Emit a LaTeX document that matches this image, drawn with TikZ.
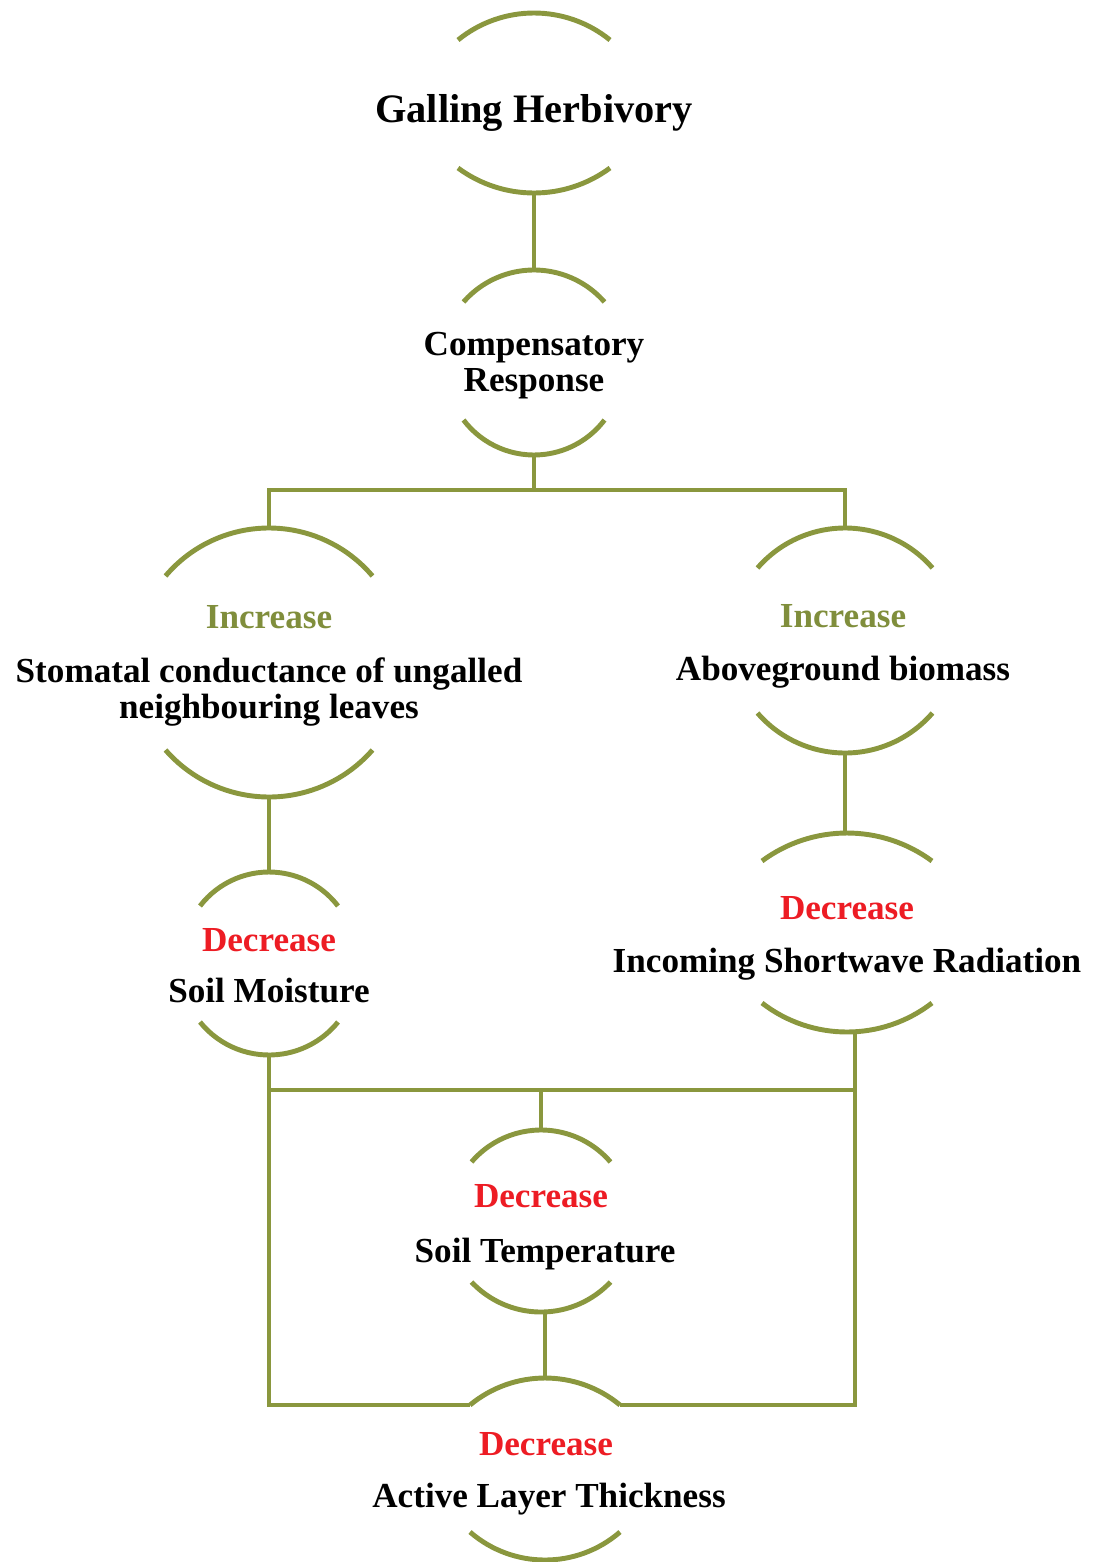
\documentclass[tikz,border=0pt]{standalone}
\usepackage{fontspec}
\setmainfont{Liberation Serif}
\definecolor{olivel}{RGB}{138,151,62}
\definecolor{incgreen}{RGB}{128,142,60}
\definecolor{decred}{RGB}{237,28,36}
\newcommand{\incr}{\textcolor{incgreen}{Increase}}
\newcommand{\decr}{\textcolor{decred}{Decrease}}
% two caps round a term: name, x, half width, top y, top sag, bottom y, bottom sag
\newcommand{\caps}[7]{%
  \pgfmathsetmacro{\capr}{(#3*#3+#5*#5)/(2*#5)}%
  \pgfmathsetmacro{\capa}{asin(#3/\capr)}%
  \draw[capline] (#2-#3,-#4) arc[start angle=90+\capa, end angle=90-\capa, radius=\capr];
  \coordinate (#1-n) at (#2,-#4+#5);
  \coordinate (#1-nw) at (#2-#3,-#4);
  \coordinate (#1-ne) at (#2+#3,-#4);
  \pgfmathsetmacro{\capr}{(#3*#3+#7*#7)/(2*#7)}%
  \pgfmathsetmacro{\capa}{asin(#3/\capr)}%
  \draw[capline] (#2-#3,-#6) arc[start angle=270-\capa, end angle=270+\capa, radius=\capr];
  \coordinate (#1-s) at (#2,-#6-#7);
}

\begin{document}
\begin{tikzpicture}[x=0.02cm, y=0.02cm,
    capline/.style = {color=olivel, line width=2.8pt},
    term/.style = {anchor=base, align=center, inner sep=0pt, font=\bfseries\fontsize{20}{20}\selectfont},
    title/.style = {anchor=base, inner sep=0pt, font=\bfseries\fontsize{23}{24}\selectfont}]
    \useasboundingbox (0,0) rectangle (1094,-1562);
    % caps
    \caps{gh}{534}{76}{40}{27}{168}{25}
    \caps{cr}{534}{70.5}{302}{32}{420}{35}
    \caps{si}{269}{103.5}{576}{48}{750}{47}
    \caps{ab}{845}{87.5}{568}{40}{713}{40}
    \caps{sm}{269}{69}{906}{34}{1022}{33}
    \caps{ir}{847}{85}{861}{28}{1003}{29}
    \caps{st}{541}{69.5}{1162}{32}{1282}{30}
    \caps{al}{545}{75}{1405}{27}{1532}{28}
    % terms (base = last line)
    \node[title] (gh) at (534,-122) {Galling Herbivory};
    \node[term] (cr) at (534,-391) {Compensatory\\Response};
    \node[term] (si-l) at (269,-628) {\incr};
    \node[term] (si) at (269,-718) {Stomatal conductance of ungalled\\neighbouring leaves};
    \node[term] (ab-l) at (843,-627) {\incr};
    \node[term] (ab) at (843,-680) {Aboveground biomass};
    \node[term] (sm-l) at (269,-951) {\decr};
    \node[term] (sm) at (269,-1002) {Soil Moisture};
    \node[term] (ir-l) at (847,-919) {\decr};
    \node[term] (ir) at (847,-972) {Incoming Shortwave Radiation};
    \node[term] (st-l) at (541,-1207) {\decr};
    \node[term] (st) at (545,-1262) {Soil Temperature};
    \node[term] (al-l) at (546,-1455) {\decr};
    \node[term] (al) at (549,-1507) {Active Layer Thickness};
    % links
    \coordinate (split) at (534,-490);
    \coordinate (join) at (541,-1090);
    \path (ir-s) ++(8,0) coordinate (ir-r);
    \draw[capline] (gh-s) -- (cr-n);
    \draw[capline] (cr-s) -- (split);
    \draw[capline] (si-n) |- (split) -| (ab-n);
    \draw[capline] (si-s) -- (sm-n);
    \draw[capline] (ab-s) -- (ab-s |- ir-n);
    \draw[capline] (sm-s) |- (join) -- (join -| ir-r);
    \draw[capline] (join) -- (st-n);
    \draw[capline] (al-n |- st-s) -- (al-n);
    \draw[capline] (sm-s |- join) -- (sm-s |- al-nw) -- (al-nw);
    \draw[capline] (ir-r) -- (ir-r |- al-ne) -- (al-ne);
\end{tikzpicture}
\end{document}
